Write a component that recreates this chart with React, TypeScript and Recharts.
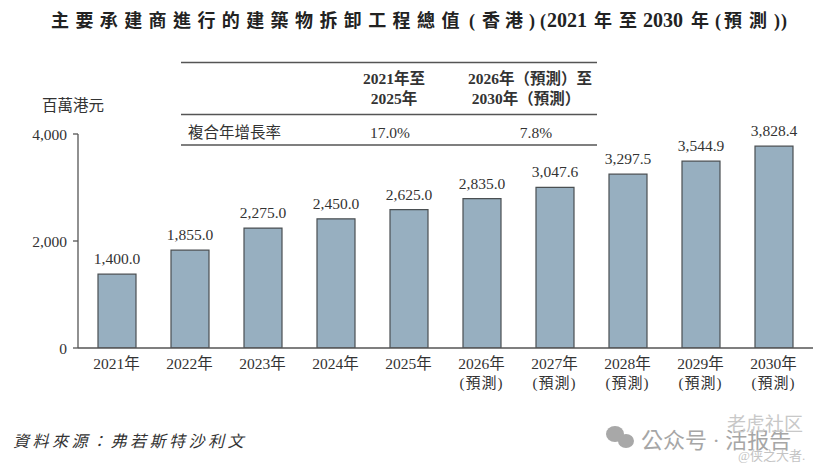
import React from "react";
import { BarChart, Bar, XAxis, YAxis, LabelList } from "recharts";

const categories = ["2021年", "2022年", "2023年", "2024年", "2025年", "2026年", "2027年", "2028年", "2029年", "2030年"];
const forecastFlags = [false, false, false, false, false, true, true, true, true, true];
const values = [1400.0, 1855.0, 2275.0, 2450.0, 2625.0, 2835.0, 3047.6, 3297.5, 3544.9, 3828.4];
const valueLabels = ["1,400.0", "1,855.0", "2,275.0", "2,450.0", "2,625.0", "2,835.0", "3,047.6", "3,297.5", "3,544.9", "3,828.4"];
const yTicks = [0, 2000, 4000];
const yTickLabels = ["0", "2,000", "4,000"];

const titleParts: [string, number, number, number][] = [
  ["主要承建商進行的建築物拆卸工程總值", 51, 6.4, 18],
  ["(", 469, 0, 18],
  ["香港", 482, 5, 18],
  [")", 529, 0, 18],
  ["(", 540, 0, 18],
  ["2021", 547, 0, 20],
  ["年至", 594, 7, 18],
  ["2030", 643, 0, 20],
  ["年", 691, 0, 18],
  ["(", 715, 0, 18],
  ["預測", 724, 7, 18],
  ["))", 774, 1, 18],
];
const unitLabel = "百萬港元";
const tableHeadA = ["2021年至", "2025年"];
const tableHeadB = ["2026年（預測）至", "2030年（預測）"];
const tableRowName = "複合年增長率";
const tableRowA = "17.0%";
const tableRowB = "7.8%";
const sourceText = "資料來源：弗若斯特沙利文";

const data = categories.map((c, i) => ({ name: c, value: values[i], label: valueLabels[i], forecast: forecastFlags[i] }));

const FONT = '"Liberation Serif", "Noto Sans CJK TC", serif';
const INK = "#333333";
const AXIS = "#555555";

function XTick(props: any) {
  const { x, y, payload, index } = props;
  return (
    <g>
      <text x={x} y={y + 13} textAnchor="middle" fontSize={15.5} fontFamily={FONT} fill={INK}>{payload.value}</text>
      {forecastFlags[index] ? (
        <text x={x} y={y + 32} textAnchor="middle" fontSize={15} letterSpacing={1} fontFamily={FONT} fill={INK}>(預測)</text>
      ) : null}
    </g>
  );
}

function Overlay() {
  const t = { fontFamily: FONT, fill: INK };
  return (
    <svg width={826} height={472} style={{ position: "absolute", left: 0, top: 0, pointerEvents: "none" }}>
      <text y={27} fontWeight={700} fontFamily={FONT} fill="#222">
        {titleParts.map(([s, x, ls, fs], i) => (
          <tspan key={i} x={x} letterSpacing={ls} fontSize={fs}>{s}</tspan>
        ))}
      </text>
      <line x1={181} x2={597} y1={62.5} y2={62.5} stroke={AXIS} strokeWidth={1.3} />
      <line x1={181} x2={597} y1={114.5} y2={114.5} stroke={AXIS} strokeWidth={1.3} />
      <line x1={181} x2={597} y1={145} y2={145} stroke={AXIS} strokeWidth={1.3} />
      <text x={394} y={84} textAnchor="middle" fontSize={15.5} fontWeight={700} {...t}>{tableHeadA[0]}</text>
      <text x={394} y={104} textAnchor="middle" fontSize={15.5} fontWeight={700} {...t}>{tableHeadA[1]}</text>
      <text x={530} y={84} textAnchor="middle" fontSize={15.5} fontWeight={700} {...t}>{tableHeadB[0]}</text>
      <text x={526} y={104} textAnchor="middle" fontSize={15.5} fontWeight={700} {...t}>{tableHeadB[1]}</text>
      <text x={188} y={138} fontSize={15.5} {...t}>{tableRowName}</text>
      <text x={390} y={138} textAnchor="middle" fontSize={15.5} {...t}>{tableRowA}</text>
      <text x={536} y={138} textAnchor="middle" fontSize={15.5} {...t}>{tableRowB}</text>
      <text x={42} y={111} fontSize={15.5} {...t}>{unitLabel}</text>
      <text x={13} y={447} fontSize={16} fontStyle="italic" letterSpacing={3.5} {...t}>{sourceText}</text>
      <g fill="#a8a8a8">
        <ellipse cx={615} cy={434} rx={9} ry={8} />
        <ellipse cx={626} cy={441} rx={8} ry={7} />
      </g>
      <text x={641} y={448} fontSize={22} fontFamily={FONT} fill="#a6a6a6">公众号 · 活报告</text>
      <text x={727} y={431} fontSize={19} fontFamily={FONT} fill="#c8c8c8">老虎社区</text>
      <text x={738} y={460} fontSize={13} fontFamily={FONT} fill="#c4c4c4">@侠之大者.</text>
    </svg>
  );
}

export default function App() {
  return (
    <div style={{ position: "absolute", left: 0, top: 0, width: 826, height: 472, background: "#fff" }}>
      <BarChart
        width={826}
        height={472}
        data={data}
        margin={{ top: 134, right: 13, bottom: 64, left: 0 }}
        barCategoryGap={0}
      >
        <XAxis
          dataKey="name"
          height={60}
          padding={{ left: 2, right: 3 }}
          interval={0}
          axisLine={{ stroke: AXIS, strokeWidth: 1.3 }}
          tickLine={false}
          tick={<XTick />}
        />
        <YAxis
          width={78}
          type="number"
          domain={[0, 4000]}
          allowDataOverflow
          ticks={yTicks}
          tickSize={5}
          tickMargin={6}
          tickFormatter={(v: number) => yTickLabels[yTicks.indexOf(v)]}
          axisLine={{ stroke: AXIS, strokeWidth: 1.3 }}
          tickLine={{ stroke: AXIS, strokeWidth: 1.3 }}
          tick={{ fontSize: 15.5, fontFamily: FONT, fill: INK }}
        />
        <YAxis yAxisId="bars" hide type="number" domain={[0, 4060]} allowDataOverflow />
        <Bar
          yAxisId="bars"
          dataKey="value"
          barSize={38}
          fill="#97AFC0"
          stroke="#4a4f52"
          strokeWidth={1.2}
          isAnimationActive={false}
        >
          <LabelList dataKey="label" position="top" offset={10} fontSize={15.5} fontFamily={FONT} fill={INK} />
        </Bar>
      </BarChart>
      <Overlay />
    </div>
  );
}
